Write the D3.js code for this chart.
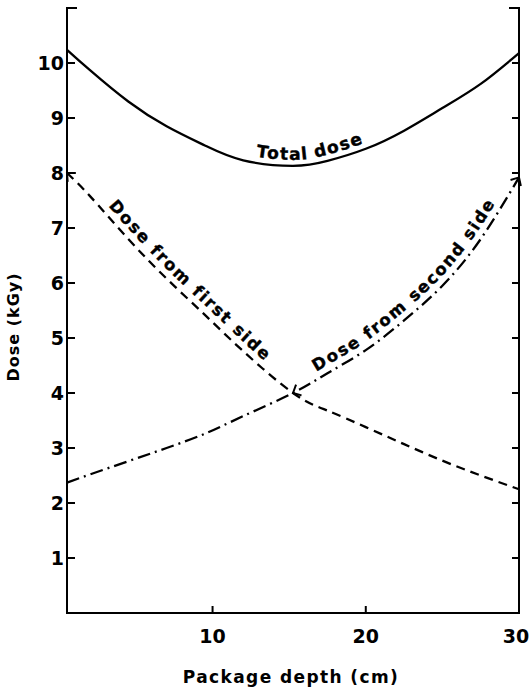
<!DOCTYPE html>
<html>
<head>
<meta charset="utf-8">
<script src="https://cdn.jsdelivr.net/npm/d3@7"></script>
<style>
  html, body { margin: 0; padding: 0; background: #fff; }
  svg { display: block; }
  text { font-family: "DejaVu Sans", "Liberation Sans", sans-serif; font-weight: bold; fill: #000; }
</style>
</head>
<body>
<svg id="chart" width="530" height="690"></svg>
<script>
// ---- data ----
const depth      = [0.5, 2, 4.5, 7, 9.5, 12, 15.25, 17.5, 20, 22.5, 25, 27.5, 30];
const totalDose  = [10.24, 9.87, 9.3, 8.85, 8.5, 8.23, 8.13, 8.22, 8.44, 8.77, 9.18, 9.62, 10.18];
const firstSide  = [8.0, 7.58, 6.8, 6.08, 5.42, 4.76, 4.0, 3.68, 3.38, 3.07, 2.77, 2.5, 2.25];
const secondSide = [2.37, 2.52, 2.76, 3.0, 3.26, 3.58, 4.0, 4.36, 4.78, 5.32, 5.95, 6.8, 7.92];
const xTickValues = [10, 20, 30];
const yTickValues = [1, 2, 3, 4, 5, 6, 7, 8, 9, 10];
const xTitle = "Package depth (cm)";
const yTitle = "Dose (kGy)";
const labelTotal = "Total dose";
const labelFirst = "Dose from first side";
const labelSecond = "Dose from second side";

// ---- layout ----
const svg = d3.select("#chart");
const x = d3.scaleLinear().domain([0.5, 30]).range([67, 519]);
const y = d3.scaleLinear().domain([0, 11]).range([613, 8]);
const x0 = x.range()[0], x1 = x.range()[1];
const yBottom = y(0), yTop = y(11);

const defs = svg.append("defs");
function arrowMarker(id) {
  const m = defs.append("marker")
    .attr("id", id)
    .attr("viewBox", "0 0 9 14")
    .attr("refX", 7.5).attr("refY", 7)
    .attr("markerWidth", 9).attr("markerHeight", 14)
    .attr("markerUnits", "userSpaceOnUse")
    .attr("orient", "auto-start-reverse");
  m.append("path").attr("d", "M1,1 L7.5,7 L1,13")
    .attr("fill", "none").attr("stroke", "#000").attr("stroke-width", 2)
    .attr("stroke-dasharray", "none");
}
arrowMarker("arrow");

const axisG = svg.append("g").attr("stroke", "#000").attr("stroke-width", 2).attr("fill", "none");
axisG.append("path").attr("d", `M${x0 + 10},${yTop} H${x0} V${yBottom} H${x1} V${yTop} H${x1 - 10}`)
  .attr("stroke-linejoin", "miter");

yTickValues.forEach(v => {
  axisG.append("line").attr("x1", x0).attr("x2", x0 + 8).attr("y1", y(v)).attr("y2", y(v));
  axisG.append("line").attr("x1", x1).attr("x2", x1 - 7).attr("y1", y(v)).attr("y2", y(v));
});
xTickValues.filter(v => v < 30).forEach(v => {
  axisG.append("line").attr("x1", x(v)).attr("x2", x(v)).attr("y1", yBottom).attr("y2", yBottom - 7);
});

svg.append("g").selectAll("text").data(yTickValues).join("text")
  .attr("x", x0 - 3).attr("y", d => y(d)).attr("dy", "0.37em")
  .attr("text-anchor", "end").attr("font-size", 19).text(d => d);
svg.append("g").selectAll("text").data(xTickValues).join("text")
  .attr("x", d => x(d) - (d === 30 ? 3 : 0)).attr("y", 643)
  .attr("text-anchor", "middle").attr("font-size", 19).text(d => d);

svg.append("text").attr("x", 291).attr("y", 683).attr("text-anchor", "middle")
  .attr("font-size", 17).attr("letter-spacing", 1.4).text(xTitle);
svg.append("text").attr("transform", "translate(19,327) rotate(-90)").attr("text-anchor", "middle")
  .attr("font-size", 16).attr("letter-spacing", 1).text(yTitle);

// ---- curves ----
const mk = vals => d3.line().x((d, i) => x(depth[i])).y(d => y(d)).curve(d3.curveNatural)(vals);

const totalPath = svg.append("path").attr("id", "pTotal").attr("d", mk(totalDose))
  .attr("fill", "none").attr("stroke", "#000").attr("stroke-width", 2.3);
const firstPath = svg.append("path").attr("id", "pFirst").attr("d", mk(firstSide))
  .attr("fill", "none").attr("stroke", "#000").attr("stroke-width", 2.3)
  .attr("stroke-dasharray", "9,6").attr("marker-start", "url(#arrow)");
const secondPath = svg.append("path").attr("id", "pSecond").attr("d", mk(secondSide))
  .attr("fill", "none").attr("stroke", "#000").attr("stroke-width", 2.3)
  .attr("stroke-dasharray", "13,5,2,5").attr("marker-end", "url(#arrow)");

function lenAtX(node, px) {
  let lo = 0, hi = node.getTotalLength();
  for (let i = 0; i < 40; i++) {
    const mid = (lo + hi) / 2;
    if (node.getPointAtLength(mid).x < px) lo = mid; else hi = mid;
  }
  return lo;
}

{
  const node = secondPath.node();
  const cx = x(depth[6]);
  const L = lenAtX(node, cx);
  const p = node.getPointAtLength(L);
  const q = node.getPointAtLength(L + 3);
  const ang = Math.atan2(p.y - q.y, p.x - q.x) * 180 / Math.PI;
  svg.append("path").attr("d", "M-6.5,-6 L0,0 L-6.5,6")
    .attr("transform", `translate(${p.x},${p.y}) rotate(${ang})`)
    .attr("fill", "none").attr("stroke", "#000").attr("stroke-width", 2);
}

function pathLabel(pathSel, str, px, anchor, dy, ls, fs) {
  const node = pathSel.node();
  const off = lenAtX(node, px);
  svg.append("text").attr("font-size", fs).attr("letter-spacing", ls).attr("dy", dy)
    .attr("stroke", "#000").attr("stroke-width", 0.4)
    .append("textPath").attr("href", "#" + node.id)
    .attr("startOffset", off).attr("text-anchor", anchor).text(str);
}
pathLabel(totalPath, labelTotal, 312, "middle", -6, 1.6, 17);
pathLabel(firstPath, labelFirst, 103, "start", -7, 1.9, 16.5);
pathLabel(secondPath, labelSecond, 320, "start", -7, 2.0, 16.5);
</script>
</body>
</html>
